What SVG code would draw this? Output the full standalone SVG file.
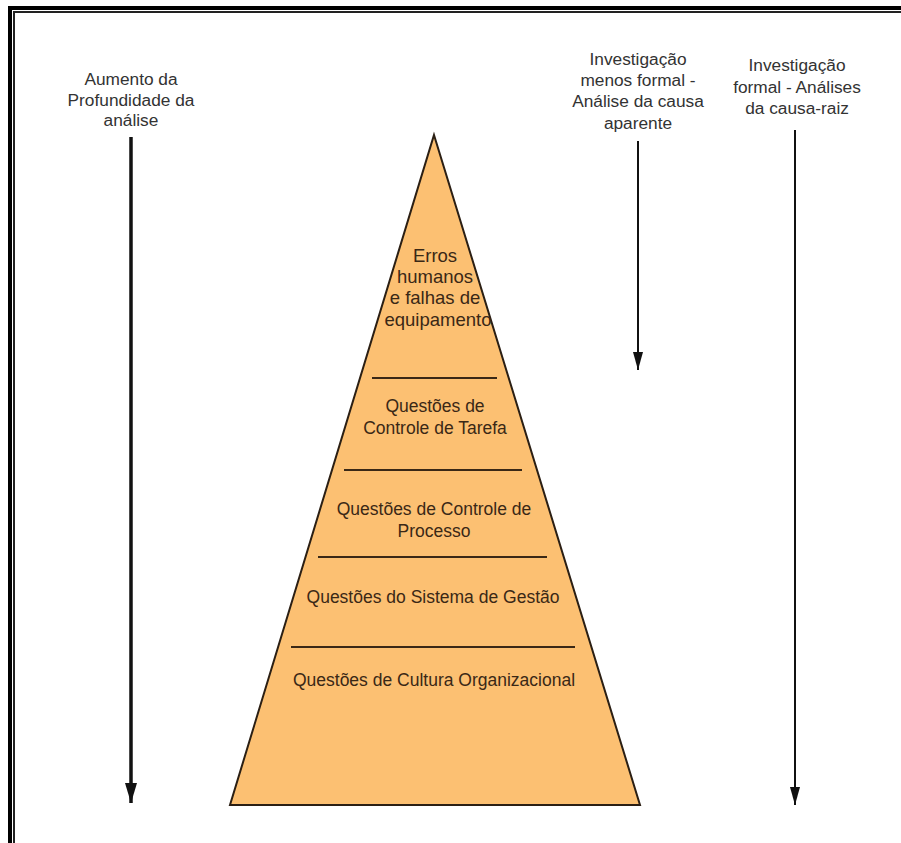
<svg xmlns="http://www.w3.org/2000/svg" width="901" height="843" viewBox="0 0 901 843">
  <defs>
    <marker id="headBig" viewBox="0 0 20 12" refX="20" refY="6" markerWidth="20" markerHeight="12" markerUnits="userSpaceOnUse" orient="auto">
      <path d="M0,0 L20,6 L0,12 Z" fill="#111"/>
    </marker>
    <marker id="head" viewBox="0 0 18 10" refX="18" refY="5" markerWidth="18" markerHeight="10" markerUnits="userSpaceOnUse" orient="auto">
      <path d="M0,0 L18,5 L0,10 Z" fill="#111"/>
    </marker>
  </defs>
  <style>
    .lbl { font-family: "Liberation Sans", Arial, sans-serif; font-size: 17.3px; fill: #333; text-anchor: middle; }
    .lvl { font-family: "Liberation Sans", Arial, sans-serif; font-size: 17.5px; fill: #3a2816; text-anchor: middle; }
    .top { font-size: 18.5px; }
    .sep { stroke: #3a2816; stroke-width: 2; }
  </style>

  <rect width="901" height="843" fill="#fff"/>

  <!-- double frame -->
  <rect x="10" y="8" width="1000" height="1000" fill="none" stroke="#000" stroke-width="4"/>
  <rect x="14" y="12" width="1000" height="1000" fill="none" stroke="#222" stroke-width="2"/>

  <!-- pyramid -->
  <g id="pyramid">
    <polygon points="434,135 640,805 230,805" fill="#fcc072" stroke="#2b1f14" stroke-width="2" stroke-linejoin="miter"/>
    <line class="sep" x1="372" y1="378" x2="497" y2="378"/>
    <line class="sep" x1="344" y1="470" x2="522" y2="470"/>
    <line class="sep" x1="318" y1="557" x2="547" y2="557"/>
    <line class="sep" x1="291" y1="647" x2="575" y2="647"/>
  </g>

  <g id="level1">
    <text class="lvl top" x="435" y="262">Erros</text>
    <text class="lvl top" x="435" y="283">humanos</text>
    <text class="lvl top" x="435" y="304">e falhas de</text>
    <text class="lvl top" x="438" y="326">equipamento</text>
  </g>
  <g id="level2">
    <text class="lvl" x="435" y="412">Questões de</text>
    <text class="lvl" x="435" y="434">Controle de Tarefa</text>
  </g>
  <g id="level3">
    <text class="lvl" x="434" y="515">Questões de Controle de</text>
    <text class="lvl" x="434" y="537">Processo</text>
  </g>
  <g id="level4">
    <text class="lvl" x="433" y="603">Questões do Sistema de Gestão</text>
  </g>
  <g id="level5">
    <text class="lvl" x="434" y="686">Questões de Cultura Organizacional</text>
  </g>

  <!-- side labels -->
  <g id="label-depth">
    <text class="lbl" x="131" y="85">Aumento da</text>
    <text class="lbl" x="131" y="106">Profundidade da</text>
    <text class="lbl" x="131" y="126">análise</text>
  </g>
  <g id="label-apparent">
    <text class="lbl" x="638" y="65">Investigação</text>
    <text class="lbl" x="638" y="86">menos formal -</text>
    <text class="lbl" x="638" y="107">Análise da causa</text>
    <text class="lbl" x="638" y="129">aparente</text>
  </g>
  <g id="label-root">
    <text class="lbl" x="797" y="71">Investigação</text>
    <text class="lbl" x="797" y="93">formal - Análises</text>
    <text class="lbl" x="797" y="114">da causa-raiz</text>
  </g>

  <!-- connectors -->
  <g id="connectors" fill="none" stroke="#111">
    <line x1="131" y1="137" x2="131" y2="803" stroke-width="3.5" marker-end="url(#headBig)"/>
    <line x1="638" y1="141" x2="638" y2="370" stroke-width="2" marker-end="url(#head)"/>
    <line x1="795" y1="130" x2="795" y2="805" stroke-width="2" marker-end="url(#head)"/>
  </g>
</svg>
